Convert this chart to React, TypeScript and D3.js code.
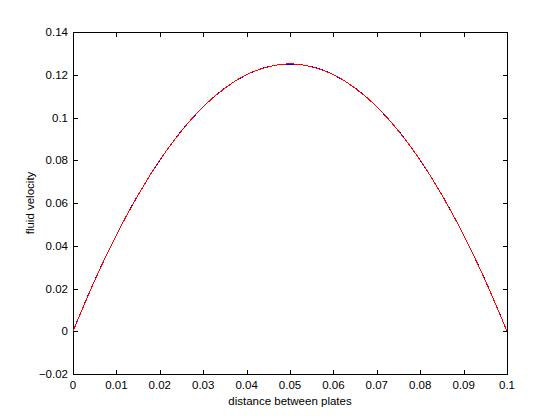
import React, {useRef, useEffect} from "react";
import * as d3 from "d3";

// distance between plates (m)
const distance = [
  0, 0.005, 0.01, 0.015, 0.02, 0.025, 0.03, 0.035, 0.04, 0.045, 0.05,
  0.055, 0.06, 0.065, 0.07, 0.075, 0.08, 0.085, 0.09, 0.095, 0.1,
];
// fluid velocity, analytic (blue)
const velocityExact = [
  0, 0.0238, 0.045, 0.0638, 0.08, 0.0938, 0.105, 0.1138, 0.12, 0.1238, 0.125,
  0.1238, 0.12, 0.1138, 0.105, 0.0938, 0.08, 0.0638, 0.045, 0.0238, 0,
];
// fluid velocity, computed (red)
const velocityNumeric = [
  0, 0.0237, 0.0451, 0.0637, 0.0801, 0.0937, 0.1051, 0.1137, 0.1201, 0.1237, 0.1251,
  0.1237, 0.1201, 0.1137, 0.1051, 0.0937, 0.0801, 0.0637, 0.0451, 0.0237, 0,
];

const xTicks = [0, 0.01, 0.02, 0.03, 0.04, 0.05, 0.06, 0.07, 0.08, 0.09, 0.1];
const yTicks = [-0.02, 0, 0.02, 0.04, 0.06, 0.08, 0.1, 0.12, 0.14];

const W = 560;
const H = 420;
const left = 73;
const right = 507;
const top = 32;
const bottom = 374;
const FONT = "'Liberation Sans', Arial, Helvetica, sans-serif";
const FS = 11.5;

const App = () => {
  const svgRef = useRef(null);

  useEffect(() => {
    const svg = d3.select(svgRef.current);
    svg.selectAll("*").remove();

    const x = d3.scaleLinear().domain([0, 0.1]).range([left, right]);
    const y = d3.scaleLinear().domain([-0.02, 0.14]).range([bottom, top]);
    const tick = 4.5;

    // axes box
    svg
      .append("rect")
      .attr("x", left + 0.5)
      .attr("y", top + 0.5)
      .attr("width", right - left)
      .attr("height", bottom - top)
      .attr("fill", "white")
      .attr("stroke", "black")
      .attr("stroke-width", 1);

    // curves
    const pts = (vals) => distance.map((d, i) => [d, vals[i]]);
    const lineSmooth = d3
      .line()
      .x((d) => x(d[0]))
      .y((d) => y(d[1]))
      .curve(d3.curveMonotoneX);

    svg
      .append("path")
      .attr("d", lineSmooth(pts(velocityExact)))
      .attr("fill", "none")
      .attr("stroke", "#0000ff")
      .attr("stroke-width", 1)
      .attr("shape-rendering", "crispEdges");

    svg
      .append("path")
      .attr("d", lineSmooth(pts(velocityNumeric)))
      .attr("fill", "none")
      .attr("stroke", "#ff0000")
      .attr("stroke-width", 1)
      .attr("shape-rendering", "crispEdges");

    // x ticks (bottom + top, inward)
    const gx = svg.append("g").attr("shape-rendering", "crispEdges");
    xTicks.forEach((t) => {
      const px = Math.round(x(t)) + 0.5;
      gx.append("line").attr("x1", px).attr("x2", px).attr("y1", bottom).attr("y2", bottom - tick).attr("stroke", "black");
      gx.append("line").attr("x1", px).attr("x2", px).attr("y1", top).attr("y2", top + tick).attr("stroke", "black");
      gx.append("text")
        .attr("x", x(t))
        .attr("y", bottom + 14.5)
        .attr("text-anchor", "middle")
        .attr("font-family", FONT)
        .attr("font-size", FS)
        .text(d3.format("~g")(t));
    });

    // y ticks (left + right, inward)
    const gy = svg.append("g").attr("shape-rendering", "crispEdges");
    yTicks.forEach((t) => {
      const py = Math.round(y(t)) + 0.5;
      gy.append("line").attr("x1", left).attr("x2", left + tick).attr("y1", py).attr("y2", py).attr("stroke", "black");
      gy.append("line").attr("x1", right).attr("x2", right - tick).attr("y1", py).attr("y2", py).attr("stroke", "black");
      gy.append("text")
        .attr("x", left - 5)
        .attr("y", y(t) + 4)
        .attr("text-anchor", "end")
        .attr("font-family", FONT)
        .attr("font-size", FS)
        .text(d3.format("~g")(+t.toFixed(2)));
    });

    // axis labels
    svg
      .append("text")
      .attr("x", (left + right) / 2)
      .attr("y", 405)
      .attr("text-anchor", "middle")
      .attr("font-family", FONT)
      .attr("font-size", FS)
      .text("distance between plates");

    svg
      .append("text")
      .attr("transform", `translate(34, ${(top + bottom) / 2}) rotate(-90)`)
      .attr("text-anchor", "middle")
      .attr("font-family", FONT)
      .attr("font-size", FS)
      .text("fluid velocity");
  }, []);

  return (
    <svg
      ref={svgRef}
      width={W}
      height={H}
      style={{position: "absolute", left: 0, top: 0, background: "white"}}
    ></svg>
  );
};

export default App;
